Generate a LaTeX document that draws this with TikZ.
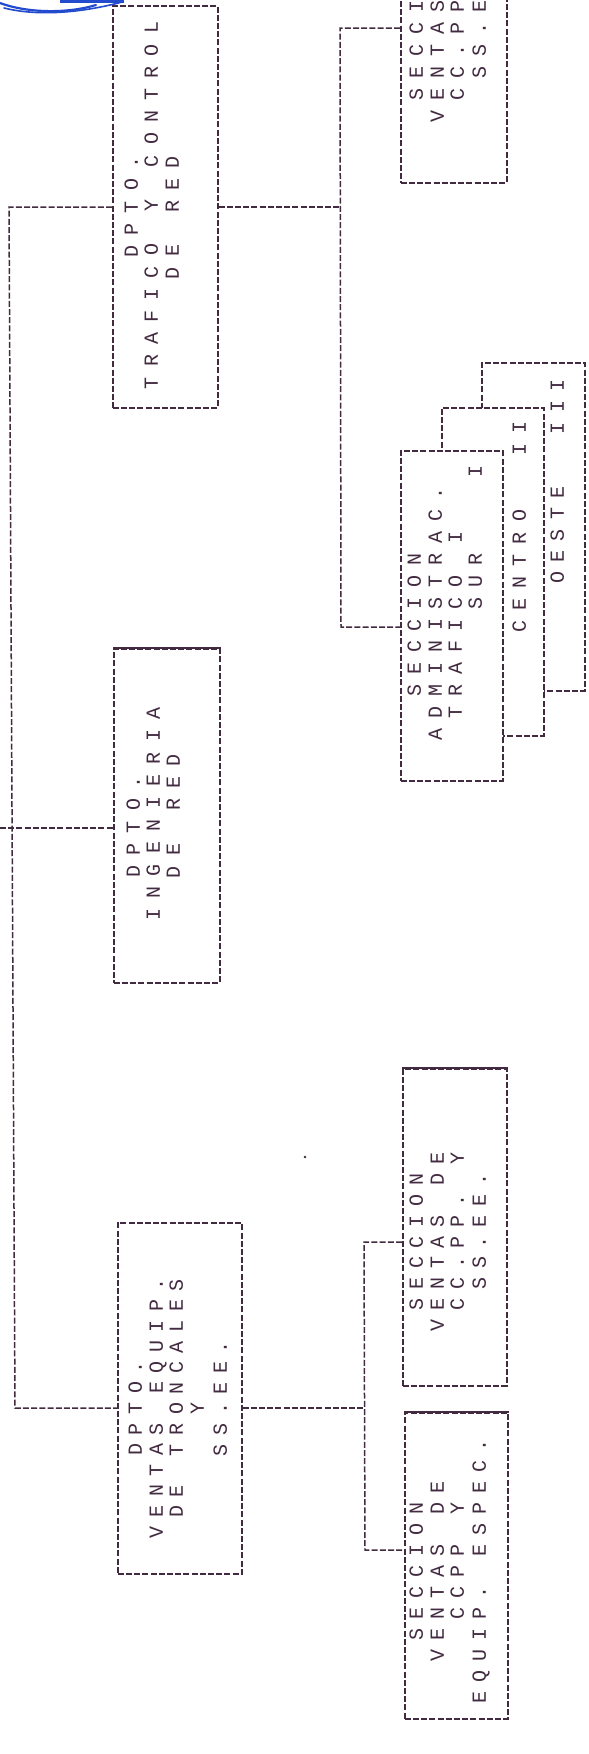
\documentclass[tikz,border=0pt]{standalone}
\usepackage{fontspec}
\newfontfamily\dmfont{Liberation Mono}
\definecolor{ink}{RGB}{66,42,64}
\definecolor{pen}{RGB}{35,75,205}
\newlength\dmpitch
\setlength\dmpitch{21.5pt}
\def\dmstop{\dmstop}
\def\dmspaced#1{\dmloop#1\dmstop}
\def\dmloop#1{\ifx\dmstop#1\else\dmcell{#1}\expandafter\dmloop\fi}
\def\dmcell#1{\makebox[\dmpitch]{\if*#1\relax\else#1\fi}}
\newcommand\dml[2]{\setlength\dmpitch{#1}\dmspaced{#2}}
\tikzset{
  ln/.style={draw=ink, line width=1.5pt, dash pattern=on 6pt off 2.2pt},
  bx/.style={ln, fill=white, inner sep=0pt, anchor=north west},
  dm/.style={rotate=90, inner sep=0pt, text=ink,
    font=\dmfont\fontsize{20pt}{20pt}\selectfont, text height=11.6pt, text depth=0pt},
  solidtop/.style={draw=ink, line width=1.6pt}
}
\begin{document}
\begin{tikzpicture}[x=1pt,y=-1pt]
\clip (0,0) rectangle (589,1754);
\fill[white] (0,0) rectangle (589,1754);

% boxes
\node[bx, minimum width=105pt, minimum height=402pt] (b1) at (112,5) {};
\node[bx, minimum width=106pt, minimum height=334pt] (b2) at (113,648) {};
\node[bx, minimum width=124pt, minimum height=351pt] (b3) at (117,1222) {};
\node[bx, minimum width=106pt, minimum height=317pt] (b4) at (400,-135) {};
\node[bx, minimum width=103pt, minimum height=328pt] (b5c) at (481,362) {};
\node[dm] (t5c) at (558,481.5) {\dml{21.4pt}{OESTE**III}};
\node[bx, minimum width=102pt, minimum height=328pt] (b5b) at (441,407) {};
\node[dm] (t5b) at (520,527) {\dml{22.2pt}{CENTRO**II}};
\node[bx, minimum width=102pt, minimum height=330pt] (b5a) at (400,450) {};
\node[bx, minimum width=104pt, minimum height=317pt] (b7) at (402,1068) {};
\node[bx, minimum width=103pt, minimum height=306pt] (b8) at (404,1412) {};

\draw[solidtop] (b2.north west) -- (b2.north east);
\draw[solidtop] (b7.north west) -- (b7.north east);
\draw[solidtop] (b8.north west) -- (b8.north east);

% connector points
\coordinate (t1) at (9,207);
\coordinate (t3) at (15,1408);
\coordinate (e2) at (0,828);
\coordinate (v1u) at (340,28);
\coordinate (v1m) at (340,207);
\coordinate (v1d) at (341,627);
\coordinate (v3u) at (364,1242);
\coordinate (v3m) at (364,1408);
\coordinate (v3d) at (365,1550);

\draw[ln] (b1.west |- t1) -- (t1) -- (t3) -- (b3.west |- t3);
\draw[ln] (e2) -- (b2.west |- e2);
\draw[ln] (b1.east |- v1m) -- (v1m);
\draw[ln] (b4.west |- v1u) -- (v1u) -- (v1d) -- (b5a.west |- v1d);
\draw[ln] (b3.east |- v3m) -- (v3m);
\draw[ln] (b7.west |- v3u) -- (v3u) -- (v3d) -- (b8.west |- v3d);

% box 1
\node[dm] (t1a) at (132,207) {\dml{22.2pt}{DPTO.}};
\node[dm] (t1b) at (152,205.5) {\dml{22.2pt}{TRAFICO*Y*CONTROL}};
\node[dm] (t1c) at (173,217.5) {\dml{22.2pt}{DE*RED}};
% box 2
\node[dm] (t2a) at (134,827) {\dml{22.4pt}{DPTO.}};
\node[dm] (t2b) at (154,814) {\dml{22.4pt}{INGENIERIA}};
\node[dm] (t2c) at (174,816) {\dml{22.4pt}{DE*RED}};
% box 3
\node[dm] (t3a) at (136,1408.5) {\dml{20.6pt}{DPTO.}};
\node[dm] (t3b) at (157,1408.5) {\dml{20.6pt}{VENTAS*EQUIP.}};
\node[dm] (t3c) at (177,1398.5) {\dml{20.6pt}{DE*TRONCALES}};
\node[dm] (t3d) at (198,1408) {\dml{20.6pt}{Y}};
\node[dm] (t3e) at (221,1398.5) {\dml{20.6pt}{SS.EE.}};
% box 4 (its top runs off the page, as in the scan)
\node[dm] (t4a) at (417,28) {\dml{22pt}{SECCION}};
\node[dm] (t4b) at (438,28) {\dml{22pt}{VENTAS*DE}};
\node[dm] (t4c) at (458,17) {\dml{22pt}{CC.PP.*Y}};
\node[dm] (t4d) at (480,17) {\dml{22pt}{SS.EE.}};
% box 5a
\node[dm] (t5a1) at (415,625) {\dml{21.9pt}{SECCION}};
\node[dm] (t5a2) at (436,614) {\dml{21.9pt}{ADMINISTRAC.}};
\node[dm] (t5a3) at (456,625) {\dml{21.9pt}{TRAFICO*I}};
\node[dm] (t5a4) at (476,537.5) {\dml{21.9pt}{SUR***I}};
% box 7
\node[dm] (t7a) at (417,1242) {\dml{20.8pt}{SECCION}};
\node[dm] (t7b) at (438,1242) {\dml{20.8pt}{VENTAS*DE}};
\node[dm] (t7c) at (458,1231.6) {\dml{20.8pt}{CC.PP.*Y}};
\node[dm] (t7d) at (480,1231.6) {\dml{20.8pt}{SS.EE.}};
% box 8
\node[dm] (t8a) at (417,1571) {\dml{21pt}{SECCION}};
\node[dm] (t8b) at (438,1571) {\dml{21pt}{VENTAS*DE}};
\node[dm] (t8c) at (458,1560.5) {\dml{21pt}{CCPP*Y}};
\node[dm] (t8d) at (480,1571) {\dml{21pt}{EQUIP.*ESPEC.}};

% speck
\fill[ink] (305,1157) circle (1.3pt);

% blue pen mark
\draw[pen, line width=2.2pt, line cap=round] (0,3) .. controls (30,14) and (70,13) .. (96,5);
\draw[pen, line width=1.6pt, line cap=round] (4,8) .. controls (40,17) and (85,12) .. (122,2);
\draw[pen, line width=2.6pt] (60,1.5) -- (124,1.5);
\end{tikzpicture}
\end{document}
